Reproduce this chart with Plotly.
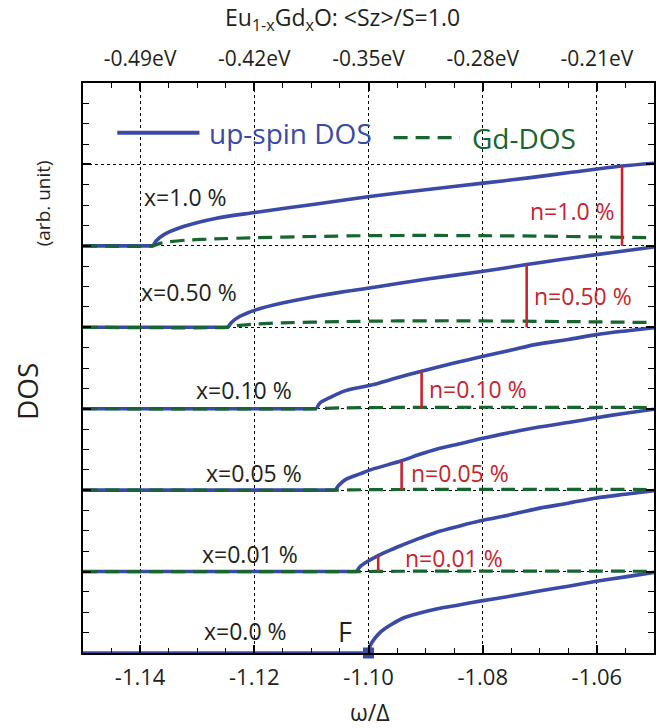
import plotly.graph_objects as go

# ---------------- data ----------------
x_labels = ["x=0.0 %", "x=0.01 %", "x=0.05 %", "x=0.10 %", "x=0.50 %", "x=1.0 %"]

# up-spin DOS curves (omega/Delta, height above own baseline)
up_w_00 = [-1.15, -1.1000, -1.0997, -1.0990, -1.0980, -1.0974, -1.0960, -1.0939, -1.0910,
           -1.0881, -1.0842, -1.0802, -1.0750, -1.0706, -1.0650, -1.0601, -1.0550, -1.0500]
up_h_00 = [0.0, 0.0, 0.09, 0.17, 0.25, 0.286, 0.35, 0.43, 0.49,
           0.54, 0.59, 0.64, 0.70, 0.756, 0.82, 0.88, 0.935, 0.99]

up_w_01 = [-1.15, -1.1021, -1.1015, -1.1004, -1.0983, -1.0960, -1.0939, -1.0910, -1.0881,
           -1.0840, -1.0802, -1.0750, -1.0706, -1.0650, -1.0601, -1.0550, -1.0500]
up_h_01 = [0.0, 0.0, 0.06, 0.115, 0.196, 0.27, 0.33, 0.41, 0.483,
           0.56, 0.626, 0.70, 0.77, 0.84, 0.904, 0.95, 0.994]

up_w_05 = [-1.15, -1.1058, -1.1052, -1.1039, -1.1015, -1.0994, -1.0942, -1.0910, -1.0881,
           -1.0840, -1.0802, -1.0750, -1.0706, -1.0650, -1.0601, -1.0550, -1.0500]
up_h_05 = [0.0, 0.0, 0.06, 0.135, 0.20, 0.255, 0.36, 0.44, 0.503,
           0.57, 0.634, 0.71, 0.77, 0.83, 0.89, 0.945, 0.994]

up_w_10 = [-1.15, -1.1091, -1.1085, -1.1062, -1.1045, -1.1020, -1.0995, -1.0950, -1.0907,
           -1.0850, -1.0799, -1.0750, -1.0706, -1.0650, -1.0601, -1.0550, -1.0500]
up_h_10 = [0.0, 0.0, 0.07, 0.155, 0.21, 0.255, 0.29, 0.38, 0.46,
           0.56, 0.645, 0.72, 0.79, 0.85, 0.91, 0.955, 0.994]

up_w_50 = [-1.15, -1.1246, -1.1240, -1.1225, -1.1196, -1.1149, -1.1091, -1.1045, -1.0998,
           -1.0900, -1.0799, -1.0723, -1.0660, -1.0601, -1.0550, -1.0500]
up_h_50 = [0.0, 0.0, 0.06, 0.135, 0.217, 0.30, 0.38, 0.435, 0.483,
           0.59, 0.687, 0.77, 0.835, 0.892, 0.94, 0.986]

up_w_100 = [-1.15, -1.1377, -1.1372, -1.1359, -1.1324, -1.1266, -1.1199, -1.1091, -1.0998,
            -1.0900, -1.0799, -1.0720, -1.0648, -1.0556, -1.0500]
up_h_100 = [0.0, 0.0, 0.06, 0.135, 0.237, 0.34, 0.41, 0.515, 0.605,
            0.69, 0.77, 0.835, 0.90, 0.98, 1.015]

# Gd-DOS curves
gd_w_01 = [-1.15, -1.1021, -1.0950, -1.0800, -1.0650, -1.0500]
gd_h_01 = [0.0, 0.0, 0.004, 0.005, 0.005, 0.004]

gd_w_05 = [-1.15, -1.1058, -1.1000, -1.0900, -1.0750, -1.0600, -1.0500]
gd_h_05 = [0.0, 0.0, 0.006, 0.009, 0.010, 0.009, 0.008]

gd_w_10 = [-1.15, -1.1091, -1.1050, -1.0950, -1.0800, -1.0650, -1.0500]
gd_h_10 = [0.0, 0.0, 0.01, 0.016, 0.018, 0.017, 0.015]

gd_w_50 = [-1.15, -1.1246, -1.1230, -1.1200, -1.1150, -1.1050, -1.0950, -1.0850,
           -1.0750, -1.0650, -1.0500]
gd_h_50 = [0.0, 0.0, 0.02, 0.04, 0.055, 0.07, 0.078, 0.08, 0.076, 0.07, 0.058]

gd_w_100 = [-1.15, -1.1377, -1.1365, -1.1350, -1.1320, -1.1270, -1.1200, -1.1100,
            -1.1000, -1.0900, -1.0800, -1.0700, -1.0600, -1.0500]
gd_h_100 = [0.0, 0.0, 0.03, 0.05, 0.07, 0.085, 0.10, 0.115, 0.125, 0.128, 0.125,
            0.12, 0.11, 0.10]

up_w = [up_w_00, up_w_01, up_w_05, up_w_10, up_w_50, up_w_100]
up_h = [up_h_00, up_h_01, up_h_05, up_h_10, up_h_50, up_h_100]
gd_w = [None, gd_w_01, gd_w_05, gd_w_10, gd_w_50, gd_w_100]
gd_h = [None, gd_h_01, gd_h_05, gd_h_10, gd_h_50, gd_h_100]

# electron-number markers n (omega position and height of bar)
n_labels = ["n=0.01 %", "n=0.05 %", "n=0.10 %", "n=0.50 %", "n=1.0 %"]
n_omega = [-1.0983, -1.0942, -1.0907, -1.0723, -1.0556]
n_height = [0.19, 0.36, 0.46, 0.77, 0.98]

# Fermi level marker
fermi_omega = -1.10

# axes ticks
x_ticks = [-1.14, -1.12, -1.10, -1.08, -1.06]
x_ticktext = ["-1.14", "-1.12", "-1.10", "-1.08", "-1.06"]
top_ticktext = ["-0.49eV", "-0.42eV", "-0.35eV", "-0.28eV", "-0.21eV"]

# ---------------- style ----------------
BLUE = "#3a4aa6"
GREEN = "#17652f"
RED = "#c8242d"
TXT = "#231f20"
FONT = "Open Sans"

fig = go.Figure()

# up-spin DOS: flat part (linear) + band part (smoothed)
for i, (w, h) in enumerate(zip(up_w, up_h)):
    yv = [v + i for v in h]
    fig.add_trace(go.Scatter(
        x=w[:2], y=yv[:2], mode="lines",
        line=dict(color=BLUE, width=3.6), showlegend=False,
        hoverinfo="skip", cliponaxis=False))
    fig.add_trace(go.Scatter(
        x=w[1:], y=yv[1:], mode="lines",
        line=dict(color=BLUE, width=3.6, shape="spline", smoothing=0.8),
        showlegend=False, hoverinfo="skip", cliponaxis=False))

# Gd-DOS
for i, (w, h) in enumerate(zip(gd_w, gd_h)):
    if w is None:
        continue
    fig.add_trace(go.Scatter(
        x=w, y=[v + i for v in h], mode="lines",
        line=dict(color=GREEN, width=3.2, dash="14px,8px", shape="spline",
                  smoothing=0.6),
        showlegend=False, hoverinfo="skip"))

# red n bars
for k, (w, h) in enumerate(zip(n_omega, n_height)):
    base = k + 1
    fig.add_trace(go.Scatter(
        x=[w, w], y=[base, base + h], mode="lines",
        line=dict(color=RED, width=2.6), showlegend=False, hoverinfo="skip"))

# Fermi level marker
fig.add_trace(go.Scatter(
    x=[fermi_omega], y=[0], mode="markers",
    marker=dict(symbol="square", size=11, color=BLUE),
    showlegend=False, hoverinfo="skip", cliponaxis=False))

# invisible trace for top / right axes
fig.add_trace(go.Scatter(x=[-1.15], y=[0], xaxis="x2", yaxis="y2", mode="markers",
                         marker=dict(opacity=0), showlegend=False, hoverinfo="skip"))

# ---------------- annotations ----------------
x_lab_pos = [(-1.1216, 0.27), (-1.1207, 1.22), (-1.1200, 2.21), (-1.1218, 3.23),
             (-1.1314, 4.43), (-1.1321, 5.60)]
for t, (px, py) in zip(x_labels, x_lab_pos):
    fig.add_annotation(x=px, y=py, text=t, showarrow=False,
                       font=dict(family=FONT, size=23, color=TXT),
                       xanchor="center", yanchor="middle")

n_lab_pos = [(-1.0851, 1.17), (-1.0840, 2.21), (-1.0809, 3.24), (-1.0625, 4.38),
             (-1.0642, 5.43)]
for t, (px, py) in zip(n_labels, n_lab_pos):
    fig.add_annotation(x=px, y=py, text=t, showarrow=False,
                       font=dict(family=FONT, size=23, color=RED),
                       xanchor="center", yanchor="middle")

fig.add_annotation(x=-1.1041, y=0.27, text="F", showarrow=False,
                   font=dict(family=FONT, size=27, color=TXT),
                   xanchor="center", yanchor="middle")

# legend (drawn)
fig.add_shape(type="line", x0=-1.1440, x1=-1.1296, y0=6.39, y1=6.39,
              line=dict(color=BLUE, width=4))
fig.add_annotation(x=-1.1282, y=6.38, text="up-spin DOS", showarrow=False,
                   font=dict(family=FONT, size=28, color=BLUE),
                   xanchor="left", yanchor="middle")
fig.add_shape(type="line", x0=-1.0956, x1=-1.0840, y0=6.33, y1=6.33,
              line=dict(color=GREEN, width=3.2, dash="14px,8px"))
fig.add_annotation(x=-1.0823, y=6.32, text="Gd-DOS", showarrow=False,
                   font=dict(family=FONT, size=28, color=GREEN),
                   xanchor="left", yanchor="middle")

# axis titles
fig.add_annotation(xref="paper", yref="paper", x=-0.098, y=0.458, text="DOS",
                   showarrow=False, textangle=-90, xanchor="center", yanchor="middle",
                   font=dict(family=FONT, size=28, color=TXT))
fig.add_annotation(xref="paper", yref="paper", x=-0.070, y=0.789, text="(arb. unit)",
                   showarrow=False, textangle=-90, xanchor="center", yanchor="middle",
                   font=dict(family=FONT, size=19, color=TXT))
fig.add_annotation(xref="paper", yref="paper", x=0.5035, y=-0.103, text="ω/Δ",
                   showarrow=False, xanchor="center", yanchor="middle",
                   font=dict(family=FONT, size=23, color=TXT))
fig.add_annotation(xref="paper", yref="paper", x=0.4537, y=1.113,
                   text="Eu<sub>1-x</sub>Gd<sub>x</sub>O: &lt;Sz&gt;/S=1.0",
                   showarrow=False, xanchor="center", yanchor="middle",
                   font=dict(family=FONT, size=23, color=TXT))

axis_common = dict(showline=True, linecolor="black", linewidth=2, ticks="inside",
                   tickcolor="black", tickwidth=1.6, zeroline=False)

fig.update_layout(
    width=665, height=728,
    margin=dict(l=83, r=11, t=83, b=75),
    paper_bgcolor="white", plot_bgcolor="white",
    font=dict(family=FONT, color=TXT),
    xaxis=dict(range=[-1.15, -1.05], tickvals=x_ticks, ticktext=x_ticktext,
               ticklen=8, showgrid=True, gridcolor="black", gridwidth=1.2,
               griddash="dot", tickfont=dict(size=22, color=TXT),
               ticklabelstandoff=4,
               minor=dict(dtick=0.005, tick0=-1.15, ticks="inside", ticklen=5,
                          tickcolor="black", tickwidth=1.4, showgrid=False),
               **axis_common),
    xaxis2=dict(range=[-1.15, -1.05], overlaying="x", side="top", tickvals=x_ticks,
                ticktext=top_ticktext, ticklen=8, showgrid=False,
                tickfont=dict(size=21, color=TXT), ticklabelstandoff=7,
                minor=dict(dtick=0.005, tick0=-1.15, ticks="inside", ticklen=5,
                           tickcolor="black", tickwidth=1.4, showgrid=False),
                **axis_common),
    yaxis=dict(range=[0, 7], dtick=1, tick0=0, ticklen=8, showticklabels=False,
               showgrid=True, gridcolor="black", gridwidth=1, griddash="dot",
               minor=dict(dtick=0.25, tick0=0, ticks="inside", ticklen=6,
                          tickcolor="black", tickwidth=1.4, showgrid=False),
               **axis_common),
    yaxis2=dict(range=[0, 7], overlaying="y", side="right", dtick=1, tick0=0,
                ticklen=8, showticklabels=False, showgrid=False,
                minor=dict(dtick=0.25, tick0=0, ticks="inside", ticklen=6,
                           tickcolor="black", tickwidth=1.4, showgrid=False),
                **axis_common),
)

fig.write_html("out.html")
